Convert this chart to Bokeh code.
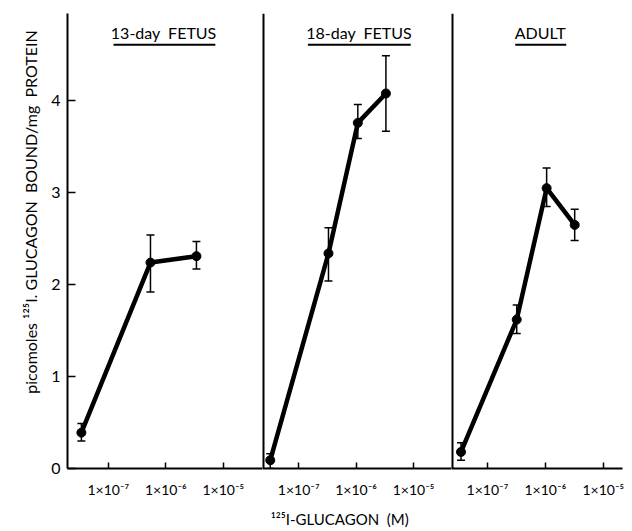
from bokeh.plotting import figure
from bokeh.models import (Range1d, FixedTicker, Whisker, TeeHead, ColumnDataSource,
                          Label, Span)
from bokeh.layouts import row
from bokeh.embed import file_html
from bokeh.resources import INLINE
import math

NB = "\u00a0"

# ---- data ----
panel_titles = ["13-day" + NB + NB + "FETUS", "18-day" + NB + NB + "FETUS", "ADULT"]

conc_13 = [3.4e-8, 5.4e-7, 3.4e-6]
bound_13 = [0.39, 2.24, 2.31]
err_lo_13 = [0.30, 1.92, 2.17]
err_hi_13 = [0.49, 2.54, 2.47]

conc_18 = [3.2e-8, 3.3e-7, 1.07e-6, 3.3e-6]
bound_18 = [0.09, 2.34, 3.76, 4.08]
err_lo_18 = [0.00, 2.04, 3.59, 3.67]
err_hi_18 = [0.16, 2.62, 3.96, 4.49]

conc_ad = [3.5e-8, 3.2e-7, 1.05e-6, 3.2e-6]
bound_ad = [0.18, 1.62, 3.05, 2.65]
err_lo_ad = [0.09, 1.47, 2.85, 2.48]
err_hi_ad = [0.28, 1.78, 3.27, 2.82]

x_ticks = [1e-7, 1e-6, 1e-5]
x_tick_labels = ["1×10⁻⁷", "1×10⁻⁶", "1×10⁻⁵"]
y_ticks = [0, 1, 2, 3, 4]

y_label = ("picomoles" + NB + "¹²⁵I." + NB + "GLUCAGON" + NB + NB + "BOUND/mg"
           + NB + NB + "PROTEIN")
x_label = "¹²⁵I-GLUCAGON" + NB + NB + "(M)"

FONT = "Lato"
H = 530
TOP = 13
BOTTOM = 62
YMAX = 4.95


def base_fig(width, x_range, x_type="log", left=0, right=0):
    p = figure(width=width, height=H, x_axis_type=x_type,
               x_range=x_range, y_range=Range1d(0, YMAX),
               output_backend="svg", toolbar_location=None,
               min_border_left=left, min_border_right=right,
               min_border_top=TOP, min_border_bottom=BOTTOM)
    p.outline_line_color = None
    p.grid.visible = False
    p.background_fill_color = "white"
    p.border_fill_color = "white"
    return p


def make_panel(width, xlog_start, xlog_end, conc, bound, lo, hi, title,
               title_xlog, ul_xlog0, ul_xlog1, left_border=0, right_border=0,
               divider=True):
    p = base_fig(width, Range1d(10 ** xlog_start, 10 ** xlog_end),
                 left=left_border, right=right_border)

    p.xaxis.ticker = FixedTicker(ticks=x_ticks)
    p.xaxis.major_label_overrides = {t: l for t, l in zip(x_ticks, x_tick_labels)}
    p.xaxis.major_tick_in = 6
    p.xaxis.major_tick_out = 0
    p.xaxis.minor_tick_line_color = None
    p.xaxis.axis_line_width = 2
    p.xaxis.major_tick_line_width = 1.5
    p.xaxis.major_label_standoff = 12
    p.xaxis.major_label_text_font = FONT
    p.xaxis.major_label_text_font_size = "14px"
    p.xaxis.major_label_text_color = "black"
    p.xaxis.axis_line_color = "black"
    p.xaxis.axis_label_text_font = FONT
    p.xaxis.axis_label_text_font_size = "15px"
    p.xaxis.axis_label_text_font_style = "normal"
    p.xaxis.axis_label_text_color = "black"
    p.xaxis.axis_label_standoff = 9

    if divider:
        p.yaxis.visible = False
        p.add_layout(Span(location=10 ** xlog_start, dimension="height",
                          line_color="black", line_width=4))
    else:
        p.yaxis.ticker = FixedTicker(ticks=y_ticks)
        p.yaxis.major_tick_in = 8
        p.yaxis.major_tick_out = 0
        p.yaxis.minor_tick_line_color = None
        p.yaxis.axis_line_width = 2
        p.yaxis.major_tick_line_width = 1.5
        p.yaxis.major_label_standoff = 7
        p.yaxis.major_label_text_font = FONT
        p.yaxis.major_label_text_font_size = "16px"
        p.yaxis.major_label_text_color = "black"
        p.yaxis.axis_line_color = "black"

    src = ColumnDataSource(dict(x=conc, y=bound, lo=lo, hi=hi))
    p.add_layout(Whisker(source=src, base="x", upper="hi", lower="lo",
                         dimension="height", line_width=1.5, line_color="black",
                         upper_head=TeeHead(size=8, line_width=1.5, line_color="black"),
                         lower_head=TeeHead(size=8, line_width=1.5, line_color="black")))
    p.line("x", "y", source=src, line_width=4.5, line_color="black",
           line_cap="round", line_join="round")
    p.scatter("x", "y", source=src, size=9, color="black")

    p.add_layout(Label(x=10 ** title_xlog, y=4.74, text=title, text_align="center",
                       text_baseline="middle", text_font=FONT,
                       text_font_size="16px", text_color="black"))
    p.segment(x0=[10 ** ul_xlog0], x1=[10 ** ul_xlog1], y0=[4.61], y1=[4.61],
              line_width=2, line_color="black")
    return p


# narrow strip holding the rotated y-axis title
ylab = base_fig(48, Range1d(0, 1), x_type="linear")
ylab.xaxis.visible = False
ylab.yaxis.visible = False
ylab.add_layout(Label(x=0.625, y=2.79, text=y_label, angle=math.pi / 2,
                      text_align="center", text_baseline="middle",
                      text_font=FONT, text_font_size="16px", text_color="black"))

p1 = make_panel(214, -7.71, -4.32, conc_13, bound_13, err_lo_13, err_hi_13,
                panel_titles[0], -6.04, -6.91, -5.14, left_border=19, divider=False)

p2 = make_panel(189, -7.63, -4.34, conc_18, bound_18, err_lo_18, err_hi_18,
                panel_titles[1], -5.95, -6.84, -5.05)
p2.xaxis.axis_label = x_label + NB * 9

p3 = make_panel(179, -7.62, -4.67, conc_ad, bound_ad, err_lo_ad, err_hi_ad,
                panel_titles[2], -6.09, -6.52, -5.64, right_border=8)

layout = row(ylab, p1, p2, p3, spacing=0)
open("out.html", "w").write(file_html(layout, INLINE))
